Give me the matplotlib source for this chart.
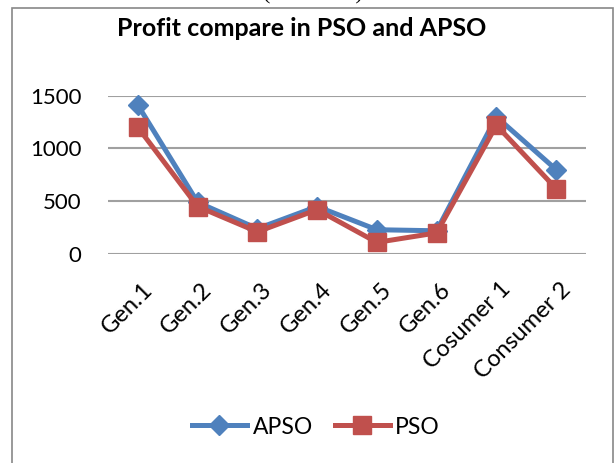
import matplotlib
matplotlib.use("Agg")
import matplotlib.pyplot as plt
from matplotlib.patches import Rectangle
import matplotlib.transforms as mtrans

categories = ["Gen.1", "Gen.2", "Gen.3", "Gen.4", "Gen.5", "Gen.6", "Cosumer 1", "Consumer 2"]
apso = [1410, 490, 240, 450, 230, 220, 1300, 800]
pso = [1200, 450, 210, 420, 110, 200, 1220, 620]
yticks = [0, 500, 1000, 1500]

plt.rcParams['font.family'] = ['Lato', 'DejaVu Sans']

W, H = 616, 463
fig = plt.figure(figsize=(W/100, H/100), dpi=100)
fig.patch.set_facecolor("white")

# outer chart border
fig.patches.append(Rectangle((12/W, -0.05), (613-12)/W, 1 - 7.5/H + 0.05, transform=fig.transFigure,
                             fill=False, edgecolor="#888888", linewidth=1.2))
fig.text(313/W, 1 + 1/H, "(GENCOs)", ha="center", va="baseline", fontsize=16,
         family="Liberation Serif")

ax = fig.add_axes([108/W, 1 - 254/H, (586-108)/W, (254-95.7)/H])
x = list(range(len(categories)))
ax.plot(x, apso, color="#4F81BD", lw=3.6, marker="D", markersize=10, label="APSO",
        clip_on=False, zorder=3)
ax.plot(x, pso, color="#C0504D", lw=3.6, marker="s", markersize=13.5, label="PSO",
        clip_on=False, zorder=4)

ax.set_xlim(-0.5, len(categories) - 0.5)
ax.set_ylim(0, 1500)
ax.set_yticks(yticks)
ax.set_yticklabels([str(v) for v in yticks], fontsize=16)
ax.yaxis.grid(True, color="#A0A0A0", lw=1.5)
ax.set_axisbelow(True)
for s in ax.spines.values():
    s.set_visible(False)
ax.tick_params(axis="both", length=0)
ax.tick_params(axis="y", pad=19)
ax.set_xticks(x)
ax.set_xticklabels(categories, rotation=45, ha="right", va="center", rotation_mode="anchor",
                   fontsize=17)
ax.tick_params(axis="x", pad=23)
offset = mtrans.ScaledTranslation(8/72, 0, fig.dpi_scale_trans)
for lab in ax.get_xticklabels():
    lab.set_transform(lab.get_transform() + offset)

fig.text(302/W, 1 - 29/H, "Profit compare in PSO and APSO", ha="center", va="center",
         fontsize=18, fontweight="bold")

leg = fig.legend(loc="center", bbox_to_anchor=(316/W, 1 - 427/H), ncol=2, frameon=False,
                 fontsize=16.5, handlelength=2.4, columnspacing=0.95, handletextpad=0.25)

fig.savefig("out.png", dpi=100)
